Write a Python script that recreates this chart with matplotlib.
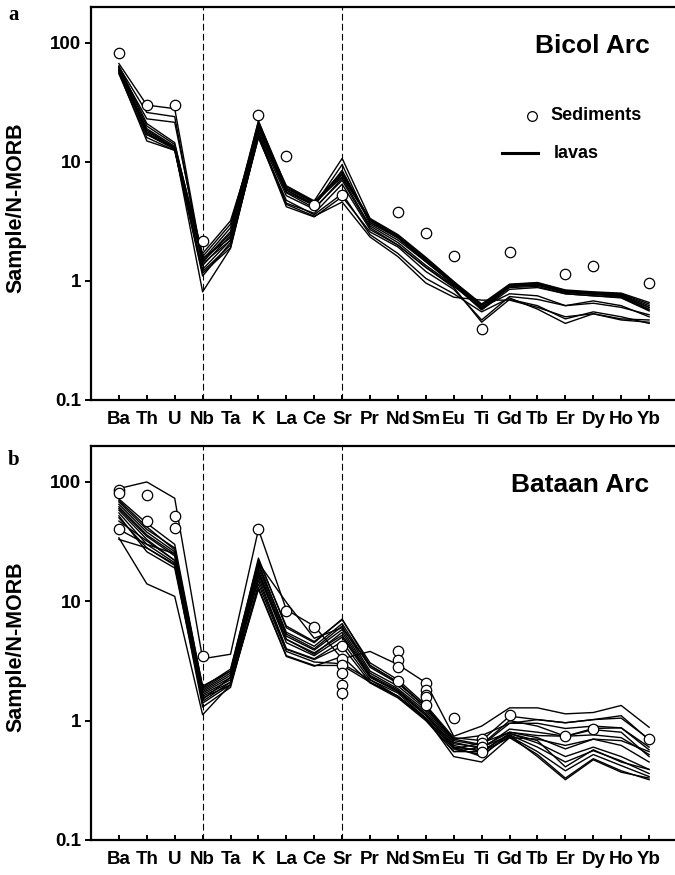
import matplotlib
matplotlib.use("Agg")
import matplotlib.pyplot as plt
import numpy as np
from matplotlib.lines import Line2D

nan = np.nan

ELEMENTS = ["Ba", "Th", "U", "Nb", "Ta", "K", "La", "Ce", "Sr", "Pr",
            "Nd", "Sm", "Eu", "Ti", "Gd", "Tb", "Er", "Dy", "Ho", "Yb"]
Y_TICKS = [0.1, 1, 10, 100]
Y_TICK_LABELS = ["0.1", "1", "10", "100"]
DIVIDERS = ["Nb", "Sr"]

# ── Bicol Arc (panel a) ─────────────────────────────────────────────
bicol_lavas = [
    [67, 30, 28, 1.45, 2.6, 22, 6.2, 4.6, 8.0, 3.3, 2.4, 1.55, 0.98, 0.62, 0.93, 0.96, 0.83, 0.80, 0.78, 0.64],
    [63, 26, 24, 1.35, 2.4, 21, 6.0, 4.5, 7.5, 3.2, 2.35, 1.5, 0.97, 0.60, 0.92, 0.95, 0.82, 0.80, 0.77, 0.62],
    [60, 23, 21.5, 1.5, 2.8, 22, 5.8, 4.4, 7.8, 3.25, 2.3, 1.5, 0.95, 0.58, 0.90, 0.93, 0.80, 0.78, 0.75, 0.60],
    [62, 20, 14, 1.6, 3.0, 20, 6.3, 4.7, 10.7, 3.35, 2.45, 1.58, 0.99, 0.64, 0.94, 0.97, 0.84, 0.81, 0.79, 0.66],
    [58, 19, 13.5, 1.7, 3.2, 18, 5.6, 4.3, 9.5, 3.0, 2.2, 1.45, 0.95, 0.63, 0.90, 0.92, 0.80, 0.77, 0.74, 0.58],
    [57, 18, 13, 1.25, 2.2, 17, 5.2, 4.0, 7.3, 2.9, 2.1, 1.35, 0.92, 0.57, 0.85, 0.88, 0.78, 0.75, 0.72, 0.56],
    [55, 16, 12.5, 1.2, 2.0, 16, 4.5, 3.7, 6.5, 2.7, 2.0, 1.3, 0.90, 0.60, 0.78, 0.75, 0.62, 0.65, 0.60, 0.52],
    [56, 15, 12.5, 1.16, 1.9, 16.5, 4.2, 3.45, 5.1, 2.58, 1.93, 1.2, 0.85, 0.47, 0.74, 0.70, 0.62, 0.68, 0.62, 0.50],
    [60, 17, 13, 0.81, 1.88, 17, 4.4, 3.5, 4.6, 2.34, 1.6, 0.96, 0.73, 0.69, 0.69, 0.60, 0.50, 0.53, 0.48, 0.47],
    [58, 17.5, 12.8, 1.1, 2.1, 16, 4.76, 3.6, 5.4, 2.45, 1.7, 1.05, 0.78, 0.55, 0.72, 0.58, 0.44, 0.53, 0.47, 0.45],
    [61, 18.5, 13.2, 1.45, 2.5, 19, 5.8, 4.3, 8.5, 3.1, 2.3, 1.5, 0.95, 0.60, 0.90, 0.94, 0.81, 0.79, 0.76, 0.60],
    [59, 17, 12.8, 1.55, 2.3, 18, 5.5, 4.1, 7.0, 2.8, 2.0, 1.3, 0.88, 0.45, 0.70, 0.62, 0.48, 0.55, 0.50, 0.44],
    [64, 21, 14.5, 1.4, 2.2, 20, 6.0, 4.6, 8.2, 3.1, 2.3, 1.45, 0.93, 0.58, 0.88, 0.90, 0.78, 0.75, 0.73, 0.57],
]
bicol_sediments = [
    [82, 30, 30, 2.17, nan, 25, 11.2, 4.35, 5.3, nan, 3.8, 2.53, 1.63, 0.395, 1.75, nan, 1.15, 1.34, nan, 0.96],
]

# ── Bataan Arc (panel b) ────────────────────────────────────────────
bataan_lavas = [
    [88, 100, 73, 3.3, 3.6, 40, 8.5, 6.2, 3.3, 3.8, 2.95, 2.08, 0.74, 0.9, 1.28, 1.28, 1.14, 1.17, 1.34, 0.88],
    [34, 14, 11, 1.12, 2.0, 13, 3.5, 2.9, 2.9, 2.1, 1.6, 1.05, 0.5, 0.45, 0.72, 0.7, 0.62, 0.7, 0.68, 0.55],
    [72, 45, 30, 1.9, 2.7, 22, 6.2, 4.6, 7.0, 3.05, 2.2, 1.35, 0.72, 0.68, 1.09, 1.02, 0.96, 1.02, 1.1, 0.69],
    [68, 40, 28, 1.8, 2.5, 20, 5.5, 4.2, 6.5, 2.8, 2.05, 1.3, 0.68, 0.62, 0.95, 0.95, 0.86, 0.9, 0.87, 0.57],
    [65, 38, 26, 1.75, 2.4, 21, 5.3, 4.0, 6.2, 2.6, 1.95, 1.25, 0.66, 0.58, 0.85, 0.8, 0.74, 0.84, 0.8, 0.5],
    [60, 35, 24, 1.7, 2.3, 19, 5.1, 3.9, 5.8, 2.5, 1.85, 1.2, 0.64, 0.6, 0.8, 0.72, 0.58, 0.70, 0.62, 0.45],
    [58, 33, 22, 1.65, 2.2, 18, 4.8, 3.6, 5.5, 2.4, 1.8, 1.15, 0.62, 0.55, 0.78, 0.65, 0.5, 0.6, 0.5, 0.39],
    [55, 30, 21, 1.6, 2.1, 17, 4.5, 3.5, 5.0, 2.3, 1.75, 1.1, 0.60, 0.56, 0.76, 0.6, 0.45, 0.56, 0.46, 0.36],
    [50, 28, 20, 1.55, 2.0, 16, 4.0, 3.3, 4.6, 2.2, 1.7, 1.05, 0.58, 0.52, 0.74, 0.55, 0.38, 0.52, 0.42, 0.34],
    [47, 32, 22, 1.5, 2.3, 15, 3.96, 3.25, 4.2, 2.1, 1.6, 1.02, 0.55, 0.55, 0.72, 0.52, 0.33, 0.48, 0.38, 0.32],
    [40, 30, 25, 1.4, 2.0, 12.6, 3.45, 2.86, 3.45, 2.07, 1.55, 1.0, 0.55, 0.6, 0.75, 0.50, 0.32, 0.47, 0.37, 0.33],
    [33, 28, 20.4, 1.3, 1.9, 14, 3.8, 3.1, 3.0, 2.2, 1.6, 1.05, 0.58, 0.65, 0.8, 0.75, 0.74, 0.76, 0.72, 0.52],
    [62, 36, 25, 1.85, 2.6, 21, 9.8, 4.9, 6.0, 2.9, 2.1, 1.3, 0.70, 0.75, 0.95, 1.02, 0.96, 1.02, 1.05, 0.70],
    [70, 42, 27, 1.95, 2.6, 23, 6.0, 4.5, 7.1, 2.9, 2.1, 1.3, 0.7, 0.63, 1.0, 0.9, 0.74, 0.86, 0.87, 0.6],
    [52, 26, 19, 1.45, 2.1, 17, 4.8, 3.7, 5.2, 2.35, 1.75, 1.12, 0.6, 0.5, 0.78, 0.68, 0.41, 0.57, 0.45, 0.39],
]
bataan_sediments = [
    [86, 77, 51.5, 3.5, nan, 40, 8.3, 6.1, 4.2, nan, 3.8, 2.07, 1.05, 0.70, 1.11, nan, 0.75, 0.85, nan, 0.70],
    [81, 47, 41, nan, nan, nan, nan, nan, 3.3, nan, 3.2, 1.82, nan, 0.65, nan, nan, nan, nan, nan, nan],
    [40, nan, nan, nan, nan, nan, nan, nan, 2.9, nan, 2.83, 1.65, nan, 0.60, nan, nan, nan, nan, nan, nan],
    [nan, nan, nan, nan, nan, nan, nan, nan, 2.5, nan, 2.14, 1.58, nan, 0.55, nan, nan, nan, nan, nan, nan],
    [nan, nan, nan, nan, nan, nan, nan, nan, 2.0, nan, nan, 1.34, nan, nan, nan, nan, nan, nan, nan, nan],
    [nan, nan, nan, nan, nan, nan, nan, nan, 1.7, nan, nan, nan, nan, nan, nan, nan, nan, nan, nan, nan],
]

SANS = "Liberation Sans"
SERIF = "Liberation Serif"
plt.rcParams["font.family"] = SANS
plt.rcParams["font.weight"] = "bold"


def spider(ax, lavas, sediments, title):
    x = np.arange(len(ELEMENTS))
    for row in lavas:
        ax.plot(x, row, color="black", linewidth=1.0, zorder=2)
    for row in sediments:
        ax.plot(x, row, "o", linestyle="none", markersize=7.5,
                markerfacecolor="white", markeredgecolor="black",
                markeredgewidth=0.9, zorder=4)
    for el in DIVIDERS:
        ax.axvline(ELEMENTS.index(el), color="black", linewidth=0.8,
                   dashes=(6, 3), zorder=1)
    ax.set_yscale("log")
    ax.set_ylim(0.1, 200)
    ax.set_xlim(-1, 20)
    ax.set_yticks(Y_TICKS)
    ax.set_yticklabels(Y_TICK_LABELS)
    ax.yaxis.set_minor_locator(matplotlib.ticker.NullLocator())
    ax.set_xticks(x)
    ax.set_xticklabels(ELEMENTS)
    ax.tick_params(axis="y", direction="out", length=4, width=1.4,
                   labelsize=13.5, pad=3)
    ax.tick_params(axis="x", direction="in", length=3.5, width=1.4,
                   labelsize=13.5, pad=8)
    for lab in ax.get_xticklabels() + ax.get_yticklabels():
        lab.set_fontweight("bold")
    for side in ["left", "bottom", "top"]:
        ax.spines[side].set_linewidth(1.6)
    ax.spines["right"].set_visible(False)
    ax.set_ylabel("Sample/N-MORB", fontsize=15.5, fontweight="bold")
    ax.yaxis.set_label_coords(-0.11, 0.49)
    ax.text(0.953, 0.9, title, transform=ax.transAxes, ha="right",
            va="center", fontsize=19, fontweight="bold")


fig = plt.figure(figsize=(6.75, 8.75), dpi=100)
W, H = 675, 875
ax_a = fig.add_axes([91 / W, 1 - 400 / H, 586 / W, 393 / H])
ax_b = fig.add_axes([91 / W, 1 - 840 / H, 586 / W, 394 / H])

spider(ax_a, bicol_lavas, bicol_sediments, "Bicol Arc")
spider(ax_b, bataan_lavas, bataan_sediments, "Bataan Arc")

# legend keys (panel a)
fig.add_artist(Line2D([532 / W], [1 - 116 / H], marker="o", linestyle="none",
                      markersize=7, markerfacecolor="white",
                      markeredgecolor="black", markeredgewidth=0.9))
fig.text(550 / W, 1 - 116 / H, "Sediments", fontsize=13, fontweight="bold",
         va="center", ha="left")
fig.add_artist(Line2D([502 / W, 538 / W], [1 - 153 / H, 1 - 153 / H],
                      color="black", linewidth=2.2))
fig.text(554 / W, 1 - 153 / H, "lavas", fontsize=13, fontweight="bold",
         va="center", ha="left")

fig.text(8 / W, 1 - 15 / H, "a", family=SERIF, fontsize=15, fontweight="bold",
         va="center", ha="left")
fig.text(8 / W, 1 - 460 / H, "b", family=SERIF, fontsize=15, fontweight="bold",
         va="center", ha="left")

fig.savefig("out.png", dpi=100)
